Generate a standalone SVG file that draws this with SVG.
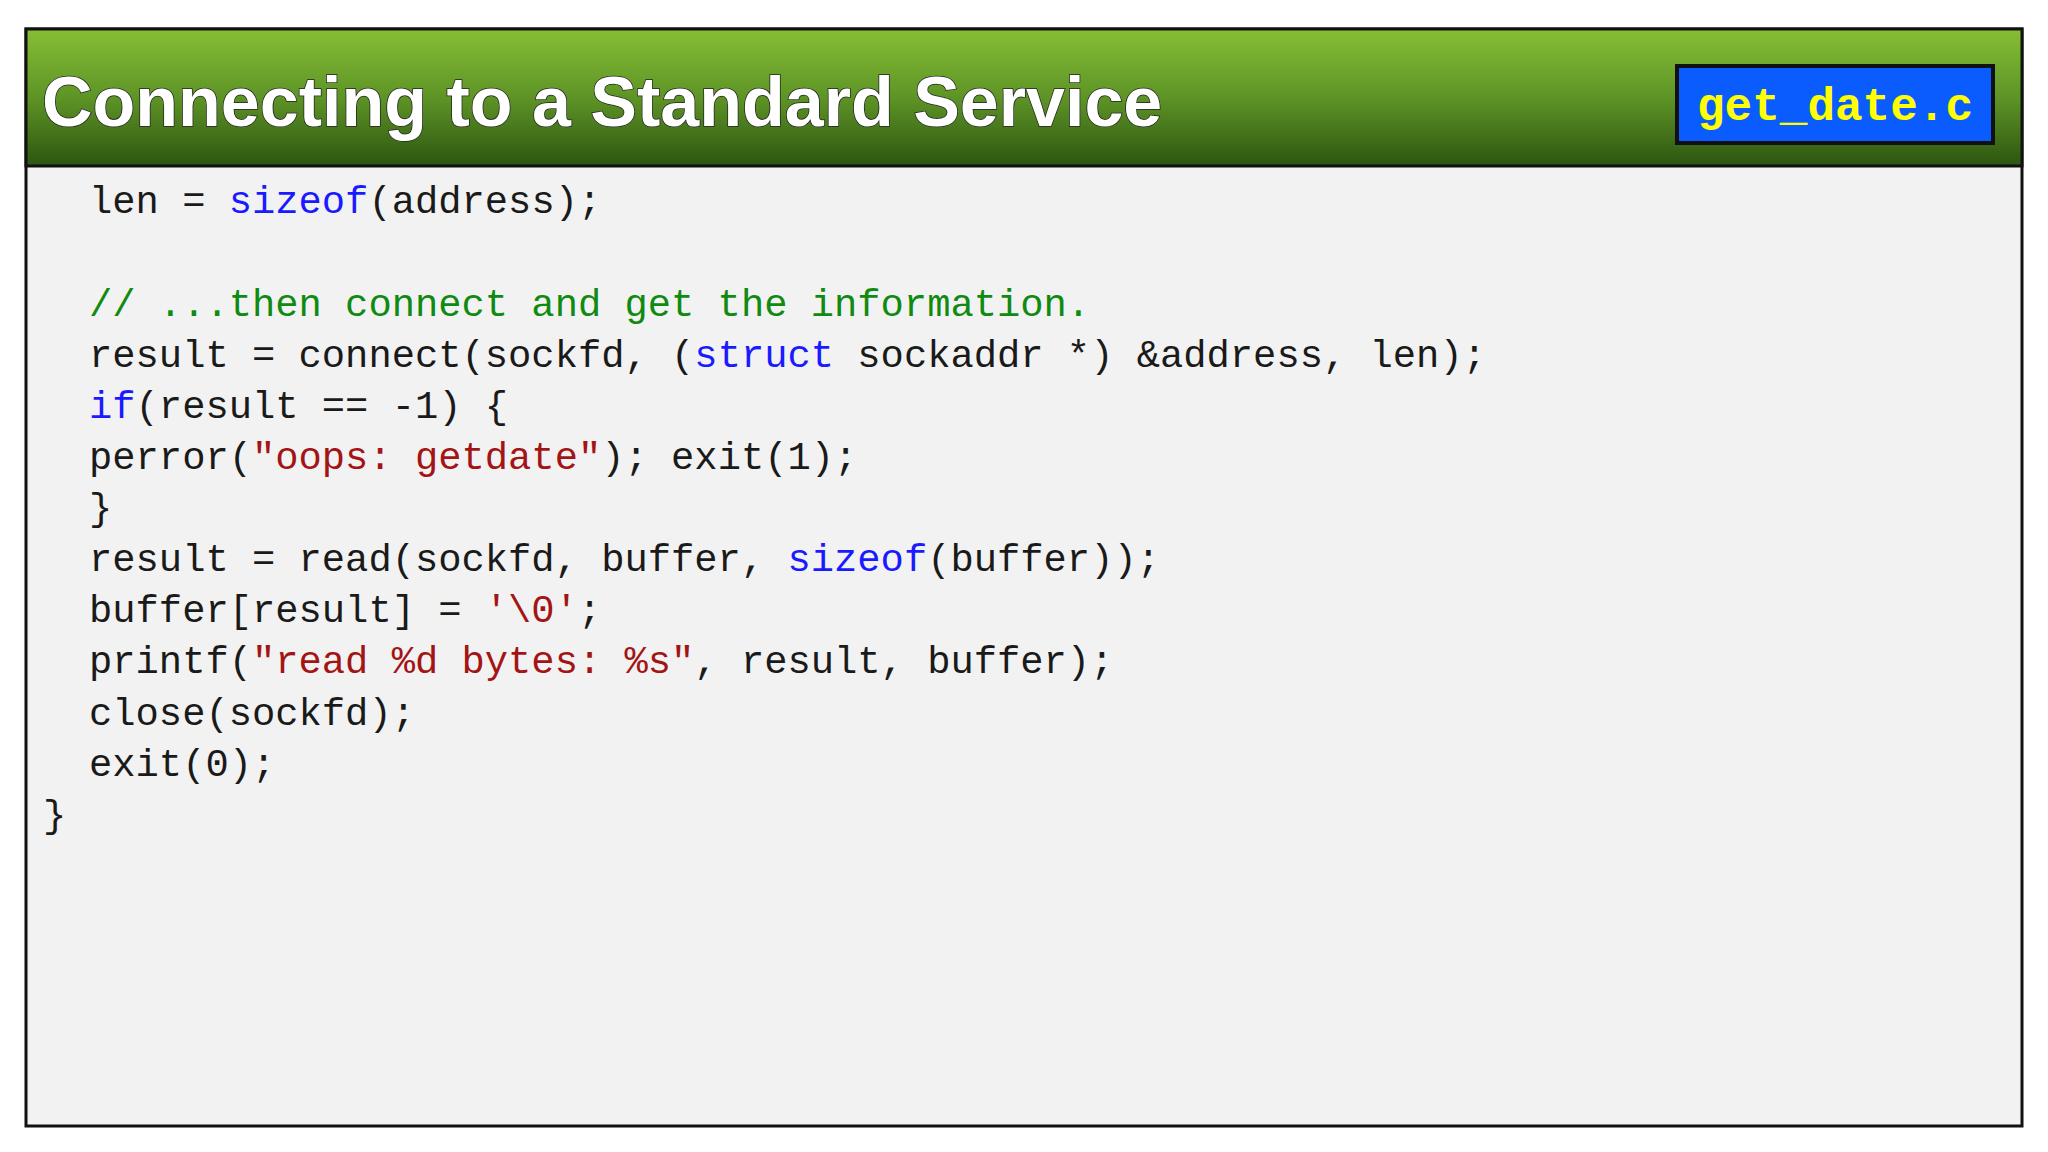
<svg xmlns="http://www.w3.org/2000/svg" width="2048" height="1152" viewBox="0 0 2048 1152">
<defs>
<linearGradient id="hg" x1="0" y1="0" x2="0" y2="1">
<stop offset="0" stop-color="#86bf35"/>
<stop offset="0.5" stop-color="#5e9426"/>
<stop offset="1" stop-color="#2c5510"/>
</linearGradient>
<style>
.code{font-family:"Liberation Mono","DejaVu Sans Mono",monospace;font-size:38.8px;fill:#1a1a1a;white-space:pre}
.k{fill:#1a1aff}.c{fill:#108a10}.s{fill:#a31515}
</style>
</defs>
<rect width="2048" height="1152" fill="#ffffff"/>
<g id="frame">
<rect x="26" y="29" width="1996" height="1097" fill="#f2f2f2" stroke="#111" stroke-width="3"/>
<rect x="26" y="29" width="1996" height="137" fill="url(#hg)" stroke="#111" stroke-width="3"/>
<text x="42" y="126" font-family="Liberation Sans,Arial,sans-serif" font-weight="bold" font-size="70" fill="#ffffff" stroke="#222" stroke-width="1.5" paint-order="stroke">Connecting to a Standard Service</text>
</g>
<g id="badge">
<rect x="1677" y="66" width="316" height="77" fill="#0a5cff" stroke="#111" stroke-width="4"/>
<text x="1835" y="120" text-anchor="middle" font-family="Liberation Mono,DejaVu Sans Mono,monospace" font-weight="bold" font-size="46" fill="#ffff00">get_date.c</text>
</g>
<g id="code" class="code" xml:space="preserve">
<text x="89" y="213">len = <tspan class="k">sizeof</tspan>(address);</text>
<text x="89" y="316"><tspan class="c">// ...then connect and get the information.</tspan></text>
<text x="89" y="367">result = connect(sockfd, (<tspan class="k">struct</tspan> sockaddr *) &amp;address, len);</text>
<text x="89" y="418"><tspan class="k">if</tspan>(result == -1) {</text>
<text x="89" y="469">  perror(<tspan class="s">"oops: getdate"</tspan>); exit(1);</text>
<text x="89" y="520">}</text>
<text x="89" y="571">result = read(sockfd, buffer, <tspan class="k">sizeof</tspan>(buffer));</text>
<text x="89" y="622">buffer[result] = <tspan class="s">'\0'</tspan>;</text>
<text x="89" y="673">printf(<tspan class="s">"read %d bytes: %s"</tspan>, result, buffer);</text>
<text x="89" y="725">close(sockfd);</text>
<text x="89" y="776">exit(0);</text>
<text x="43" y="827">}</text>
</g>
</svg>
